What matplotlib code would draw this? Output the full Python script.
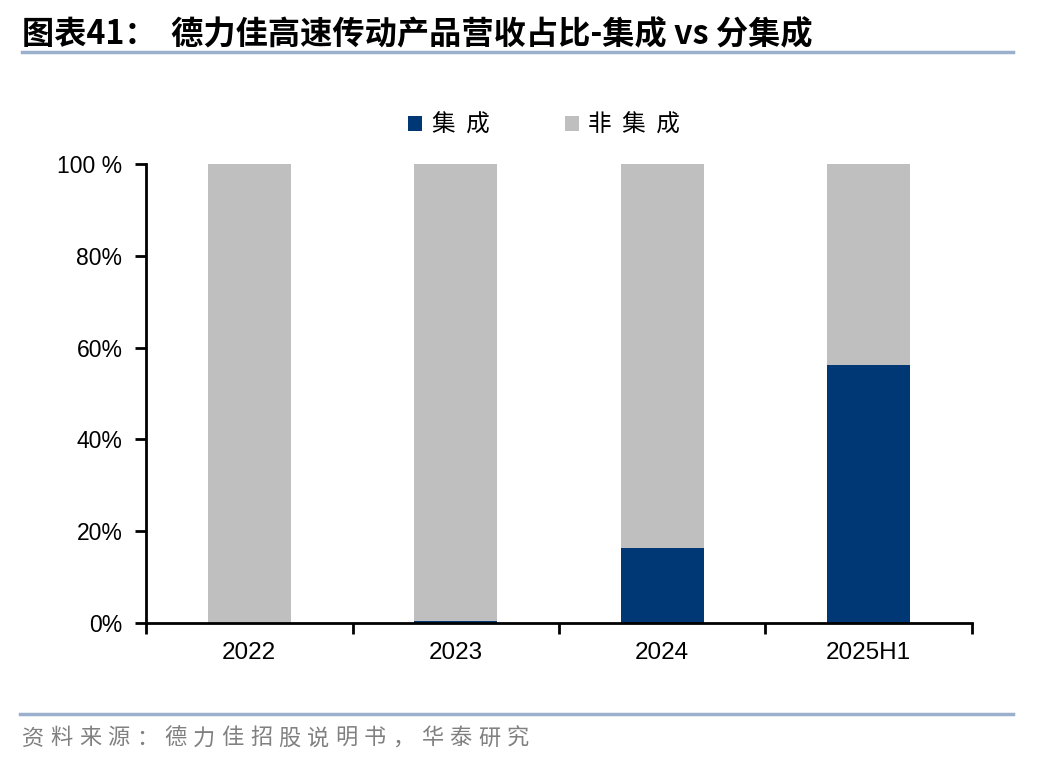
import numpy as np
import matplotlib.pyplot as plt
from matplotlib.lines import Line2D

plt.rcParams['font.family'] = ['Liberation Sans', 'Noto Sans CJK SC', 'DejaVu Sans']

# 数据
categories = ['2022', '2023', '2024', '2025H1']
integrated = [0.0, 0.5, 16.3, 56.2]
non_integrated = [100 - v for v in integrated]
title = '图表41：  德力佳高速传动产品营收占比-集成 vs 分集成'
source = '资料来源：德力佳招股说明书，华泰研究'

blue = '#003875'
gray = '#BFBFBF'
line_col = '#9AB0CC'

fig = plt.figure(figsize=(10.48, 7.6), dpi=100)
ax = fig.add_axes([146 / 1048, 1 - 623 / 760, 826 / 1048, 459 / 760])

x = np.arange(len(categories))
ax.bar(x, integrated, width=0.4, color=blue, label='集  成')
ax.bar(x, non_integrated, width=0.4, bottom=integrated, color=gray, label='非  集  成')

ax.set_xlim(-0.5, len(categories) - 0.5)
ax.set_ylim(0, 100)
ax.set_yticks(np.arange(0, 101, 20))
ax.set_yticklabels(['0%', '20%', '40%', '60%', '80%', '100 %'])
ax.set_xticks(x)
ax.set_xticklabels(categories)
ax.tick_params(axis='x', length=0, labelsize=17.5, pad=14)
ax.tick_params(axis='y', direction='out', length=8, width=2, labelsize=16.5, pad=9)
# 分类边界刻度
ax.set_xticks(np.arange(-0.5, len(categories)), minor=True)
ax.tick_params(axis='x', which='minor', direction='out', length=8, width=2)

for s in ['top', 'right']:
    ax.spines[s].set_visible(False)
ax.spines['left'].set_linewidth(2)
ax.spines['bottom'].set_linewidth(2)

ax.legend(loc='center', bbox_to_anchor=(0.482, 1.085), ncol=2, frameon=False,
          handlelength=0.6, handleheight=0.6, columnspacing=3.2, handletextpad=0.4,
          prop={'family': ['Noto Sans CJK SC'], 'size': 17})

# 标题与来源
fig.text(22 / 1048, 1 - 35 / 760, title,
         fontsize=23.2, fontweight='bold', va='center', ha='left',
         family=['Noto Sans CJK SC', 'DejaVu Sans'])
fig.add_artist(Line2D([22 / 1048, 1013 / 1048], [1 - 52 / 760, 1 - 52 / 760],
                      color=line_col, lw=2.5))
fig.add_artist(Line2D([20 / 1048, 1013 / 1048], [1 - 714 / 760, 1 - 714 / 760],
                      color=line_col, lw=2.5))
for i, ch in enumerate(source):
    fig.text((22 + i * 28.5) / 1048, 1 - 738 / 760, ch,
             fontsize=16, color='#808080', va='center', ha='left',
             family=['Noto Sans CJK SC', 'DejaVu Sans'])

fig.savefig('out.png', dpi=100)
